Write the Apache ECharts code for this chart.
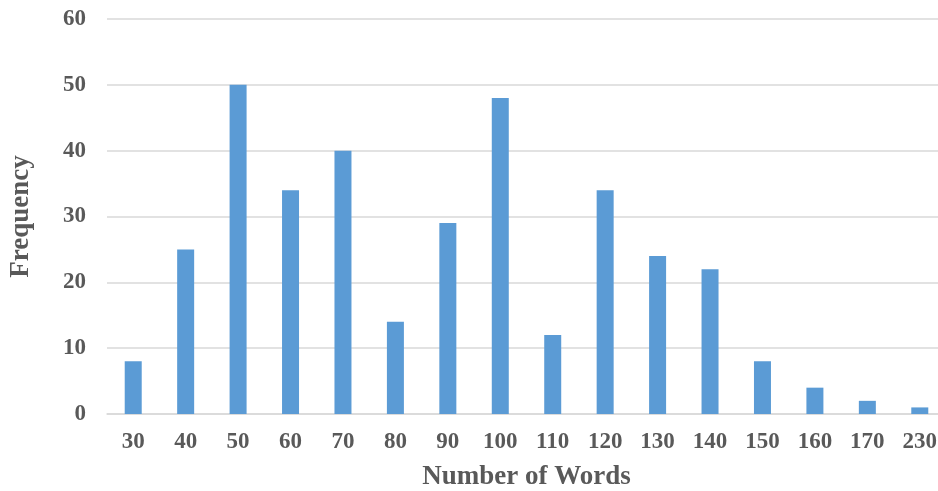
<!DOCTYPE html>
<html>
<head>
<meta charset="utf-8">
<script src="https://cdn.jsdelivr.net/npm/echarts@6/dist/echarts.min.js"></script>
<style>html,body{margin:0;padding:0;background:#fff;}#c{width:938px;height:491px;}</style>
</head>
<body>
<div id="c"></div>
<script>
var categories = ['30','40','50','60','70','80','90','100','110','120','130','140','150','160','170','230'];
var frequency = [8,25,50,34,40,14,29,48,12,34,24,22,8,4,2,1];
var yTicks = {min:0, max:60, interval:10};

var font = '"Liberation Serif","Times New Roman",serif';
var chart = echarts.init(document.getElementById('c'), null, {renderer:'canvas'});
chart.setOption({
  animation:false,
  grid:{left:107, right:-8, top:19, bottom:77, containLabel:false, outerBoundsMode:'none'},
  xAxis:{
    type:'category', data:categories,
    name:'Number of Words', nameLocation:'middle', nameGap:50,
    nameTextStyle:{fontFamily:font, fontWeight:'bold', fontSize:27, color:'#595959'},
    axisLine:{show:true, lineStyle:{color:'#d9d9d9', width:1.5}},
    axisTick:{show:false},
    axisLabel:{fontFamily:font, fontWeight:'bold', fontSize:23, color:'#595959', margin:17},
    splitLine:{show:false}
  },
  yAxis:{
    type:'value', min:yTicks.min, max:yTicks.max, interval:yTicks.interval,
    name:'Frequency', nameLocation:'middle', nameGap:72, nameRotate:90,
    nameTextStyle:{fontFamily:font, fontWeight:'bold', fontSize:27, color:'#595959'},
    axisLine:{show:false}, axisTick:{show:false},
    axisLabel:{fontFamily:font, fontWeight:'bold', fontSize:23, color:'#595959', margin:21},
    splitLine:{lineStyle:{color:'#d9d9d9', width:1.5}}
  },
  series:[{
    type:'bar', data:frequency, barWidth:17,
    itemStyle:{color:'#5B9BD5'}
  }]
});
</script>
</body>
</html>
